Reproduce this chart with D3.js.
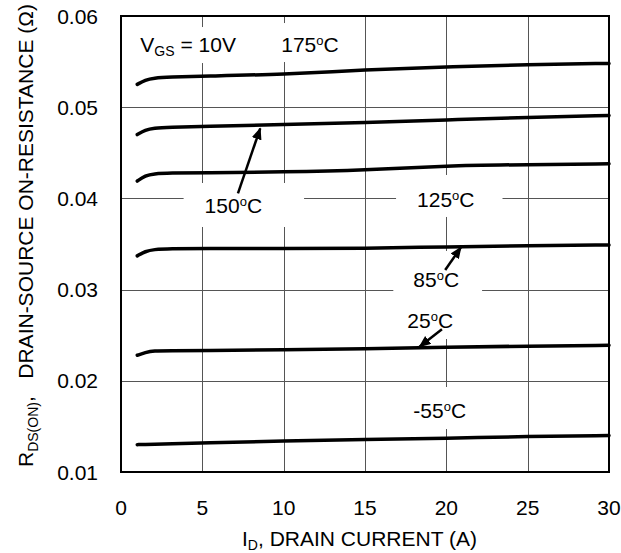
<!DOCTYPE html>
<html>
<head>
<meta charset="utf-8">
<script src="https://cdn.jsdelivr.net/npm/d3@7"></script>
<style>
    body { margin: 0; background: #fff; }
    svg { display: block; font-family: "Liberation Sans", Arial, sans-serif; }
    .grid line { stroke: #555; stroke-width: 1; }
    .curve { fill: none; stroke: #000; stroke-width: 3.5; stroke-linecap: round; }
    .lbl { font-size: 21px; fill: #000; }
    .tick-lbl { font-size: 21px; fill: #000; }
</style>
</head>
<body>
<svg id="chart" width="621" height="553"></svg>
<script>
// drain current (A) sample points, shared by all curves
const current = [1, 1.5, 2, 3, 5, 10, 15, 20, 25, 30];

// on-resistance (ohm), one array per junction temperature
const r175 = [0.0525, 0.0530, 0.0532, 0.0533, 0.0534, 0.0536, 0.0541, 0.0544, 0.0547, 0.0548];
const r150 = [0.0470, 0.0475, 0.0477, 0.0478, 0.0479, 0.0481, 0.0483, 0.0486, 0.0489, 0.0491];
const r125 = [0.0419, 0.0425, 0.0427, 0.0428, 0.0428, 0.0429, 0.0431, 0.0436, 0.0437, 0.0438];
const r85 = [0.0337, 0.0342, 0.0344, 0.0345, 0.0345, 0.0345, 0.0345, 0.0347, 0.0348, 0.0349];
const r25 = [0.0228, 0.0231, 0.0233, 0.0233, 0.0233, 0.0234, 0.0235, 0.0237, 0.0238, 0.0239];
const rMinus55 = [0.0130, 0.01302, 0.01305, 0.0131, 0.0132, 0.0134, 0.01355, 0.0137, 0.0139, 0.0140];

const xTicks = [0, 5, 10, 15, 20, 25, 30];
const yTicks = [0.01, 0.02, 0.03, 0.04, 0.05, 0.06];

const series = [r175, r150, r125, r85, r25, rMinus55];

let svg = d3.select("#chart"),
    margin = {top: 16, right: 12, bottom: 81, left: 121},
    width = 609 - margin.left,
    height = 472 - margin.top,
    g = svg.append("g").attr("transform", "translate(" + margin.left + "," + margin.top + ")");

let x = d3.scaleLinear().domain([0, 30]).range([0, width]);
let y = d3.scaleLinear().domain([0.01, 0.06]).range([height, 0]);

// grid
let grid = g.append("g").attr("class", "grid");
grid.selectAll(".vx")
    .data(xTicks.slice(1, -1))
    .enter().append("line")
    .attr("x1", d => Math.round(x(d)) + 0.5).attr("x2", d => Math.round(x(d)) + 0.5)
    .attr("y1", 0).attr("y2", height);
grid.selectAll(".hy")
    .data(yTicks.slice(1, -1))
    .enter().append("line")
    .attr("x1", 0).attr("x2", width)
    .attr("y1", d => Math.round(y(d)) + 0.5).attr("y2", d => Math.round(y(d)) + 0.5);

// annotations: text position in data units, white box padding in px
const notes = [
    {t: "175", sup: "o", rest: "C", x: 9.85, y: 0.05605, pad: [8, 8, 14, 10]},
    {t: "150", sup: "o", rest: "C", x: 5.14, y: 0.0384, pad: [21, 42, 15, 14]},
    {t: "125", sup: "o", rest: "C", x: 18.2, y: 0.03906, pad: [21, 28, 17, 10]},
    {t: "85", sup: "o", rest: "C", x: 17.97, y: 0.03029, pad: [20, 23, 21, 13]},
    {t: "25", sup: "o", rest: "C", x: 17.6, y: 0.02579, pad: [8, 14, 14, 11]},
    {t: "-55", sup: "o", rest: "C", x: 17.97, y: 0.01592, pad: [10, 14, 16, 11]}
];

let boxLayer = g.append("g");
let curveLayer = g.append("g");
let textLayer = g.append("g");

let line = d3.line()
    .x((d, i) => x(current[i]))
    .y(d => y(d))
    .curve(d3.curveBasis);

curveLayer.selectAll("path")
    .data(series)
    .enter().append("path")
    .attr("class", "curve")
    .attr("d", line);

// V_GS label
let vgs = textLayer.append("text")
    .attr("class", "lbl")
    .attr("x", x(1.19))
    .attr("y", y(0.05605));
vgs.append("tspan").text("V");
vgs.append("tspan").attr("font-size", "14px").attr("dy", 4).text("GS");
vgs.append("tspan").attr("dy", -4).text(" = 10V");
let vb = vgs.node().getBBox();
boxLayer.append("rect")
    .attr("x", vb.x - 6).attr("y", vb.y - 6)
    .attr("width", vb.width + 12).attr("height", vb.height + 10)
    .attr("fill", "#fff");

notes.forEach(function (n) {
    let t = textLayer.append("text")
        .attr("class", "lbl")
        .attr("x", x(n.x))
        .attr("y", y(n.y));
    t.append("tspan").text(n.t);
    t.append("tspan").attr("font-size", "13px").attr("dy", -7).text(n.sup);
    t.append("tspan").attr("dy", 7).text(n.rest);
    let b = t.node().getBBox();
    let capTop = y(n.y) - 15;
    boxLayer.append("rect")
        .attr("x", b.x - n.pad[0])
        .attr("y", capTop - n.pad[2])
        .attr("width", b.width + n.pad[0] + n.pad[1])
        .attr("height", 15 + n.pad[2] + n.pad[3])
        .attr("fill", "#fff");
});

// arrows from label to curve
svg.append("defs").append("marker")
    .attr("id", "head")
    .attr("viewBox", "0 0 12 10")
    .attr("refX", 11).attr("refY", 5)
    .attr("markerWidth", 12).attr("markerHeight", 10)
    .attr("markerUnits", "userSpaceOnUse")
    .attr("orient", "auto")
    .append("path")
    .attr("d", "M0,0 L12,5 L0,10 Z")
    .attr("fill", "#000");

const arrows = [
    {x1: 7.19, y1: 0.04056, x2: 8.56, y2: 0.04768},
    {x1: 19.93, y1: 0.03215, x2: 20.9, y2: 0.03464},
    {x1: 19.73, y1: 0.02565, x2: 18.35, y2: 0.02374}
];
textLayer.selectAll(".arrow")
    .data(arrows)
    .enter().append("line")
    .attr("class", "arrow")
    .attr("x1", d => x(d.x1)).attr("y1", d => y(d.y1))
    .attr("x2", d => x(d.x2)).attr("y2", d => y(d.y2))
    .attr("stroke", "#000")
    .attr("stroke-width", 2.5)
    .attr("marker-end", "url(#head)");

// frame
g.append("rect")
    .attr("x", 0).attr("y", 0)
    .attr("width", width).attr("height", height)
    .attr("fill", "none")
    .attr("stroke", "#000")
    .attr("stroke-width", 2);

// tick labels
g.selectAll(".xt")
    .data(xTicks)
    .enter().append("text")
    .attr("class", "tick-lbl")
    .attr("x", d => x(d))
    .attr("y", height + 43)
    .attr("text-anchor", "middle")
    .text(d => d);

g.selectAll(".yt")
    .data(yTicks)
    .enter().append("text")
    .attr("class", "tick-lbl")
    .attr("x", -23)
    .attr("y", d => y(d))
    .attr("dy", "0.36em")
    .attr("text-anchor", "end")
    .text(d => d.toFixed(2));

// axis titles
let xt = svg.append("text")
    .attr("class", "lbl")
    .attr("x", 242)
    .attr("y", 546);
xt.append("tspan").text("I");
xt.append("tspan").attr("font-size", "14px").attr("dy", 4).text("D");
xt.append("tspan").attr("dy", -4).text(", DRAIN CURRENT (A)");

let yt = svg.append("text")
    .attr("class", "lbl")
    .attr("transform", "translate(33,467) rotate(-90)");
yt.append("tspan").text("R");
yt.append("tspan").attr("font-size", "14px").attr("dy", 5).text("DS(ON)");
yt.append("tspan").attr("dy", -5).text(",\u00a0\u00a0\u00a0DRAIN-SOURCE ON-RESISTANCE (\u03a9)");
</script>
</body>
</html>
